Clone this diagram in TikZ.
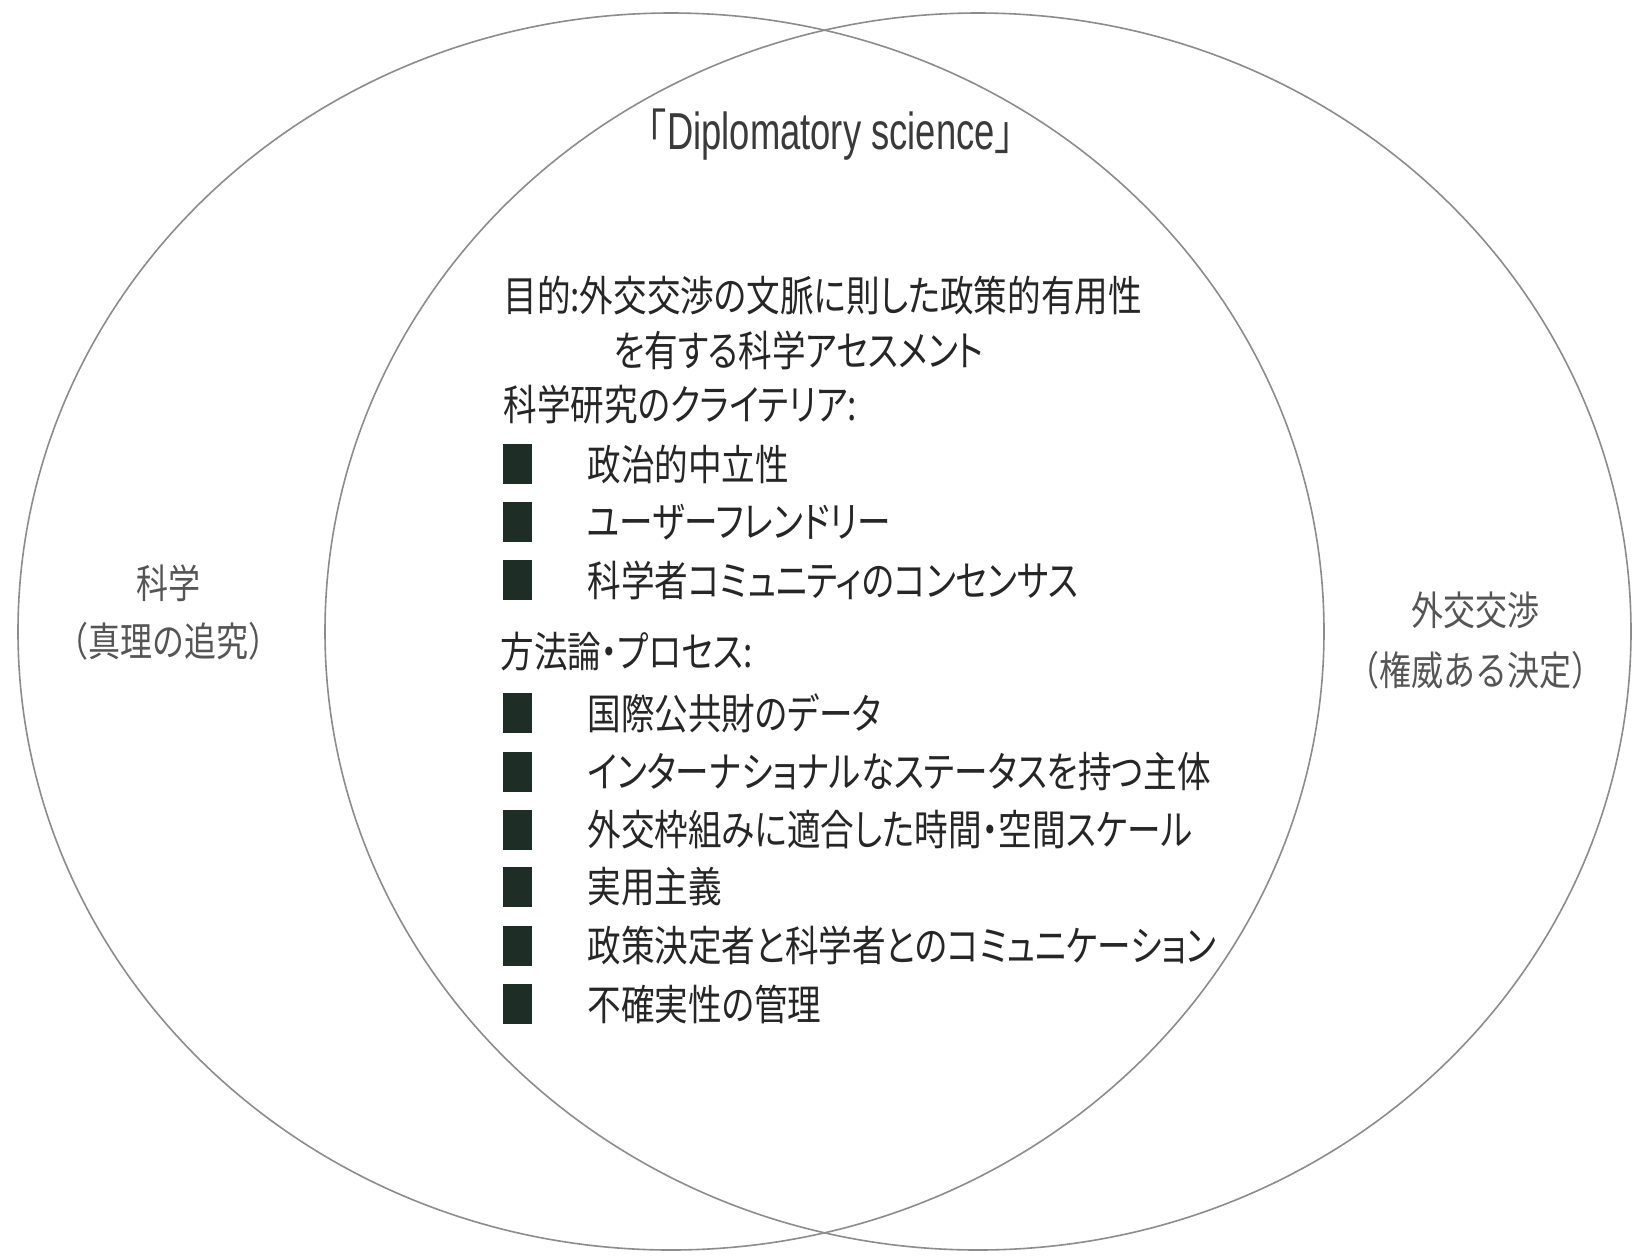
\documentclass[tikz,border=0pt]{standalone}
\usepackage{fontspec}
\newfontfamily\jpf[FakeStretch=0.8,RawFeature=+palt]{Noto Sans CJK JP}
\newfontfamily\jps[FakeStretch=0.8]{Noto Sans CJK JP}
\newfontfamily\latf[FakeStretch=0.7]{Liberation Sans}
\definecolor{ringgray}{HTML}{8C8C8C}
\definecolor{maintext}{HTML}{262626}
\definecolor{sidegray}{HTML}{555555}
\definecolor{diptext}{HTML}{3A3A3A}
\definecolor{bulletgreen}{HTML}{1E2D25}
\begin{document}
\begin{tikzpicture}[x=0.5pt,y=-0.5pt,
  venn/.style={draw=ringgray, line width=0.8pt},
  mainline/.style={anchor=west, inner sep=0pt, text=maintext, font=\jpf\fontsize{21}{24}\selectfont},
  sidelabel/.style={inner sep=0pt, text=sidegray, font=\jps\fontsize{20}{24}\selectfont},
  titlelabel/.style={inner sep=0pt, text=diptext, font=\latf\fontsize{26}{30}\selectfont},
  bulletbox/.style={fill=bulletgreen, minimum width=14.5pt, minimum height=20pt, inner sep=0pt}
]
\useasboundingbox (0,0) rectangle (1635,1255);
\fill[white] (0,0) rectangle (1635,1255);

% Venn ellipses
\draw[venn] (671,631.5) ellipse [x radius=326.5pt, y radius=309.25pt];
\draw[venn] (978,631.5) ellipse [x radius=326.5pt, y radius=309.25pt];

% Title
\node[titlelabel] (dip) at (831,135) {{\jps\fontsize{24}{28}\selectfont 「}Diplomatory science{\jps\fontsize{24}{28}\selectfont 」}};

% Side labels
\node[sidelabel] (sci1) at (168,583) {科学};
\node[sidelabel] (sci2) at (168,641) {（真理の追究）};
\node[sidelabel] (neg1) at (1475,610) {外交交渉};
\node[sidelabel] (neg2) at (1475,670) {（権威ある決定）};

% Central text
\node[mainline] (goal1) at (503,296) {目的:外交交渉の文脈に則した政策的有用性};
\node[mainline] (goal2) at (613,350) {を有する科学アセスメント};
\node[mainline] (crit) at (503,405) {科学研究のクライテリア:};

\node[bulletbox] (cb1) at (517,464) {};
\node[mainline] (ct1) at (587,464) {政治的中立性};
\node[bulletbox] (cb2) at (517,522) {};
\node[mainline] (ct2) at (587,522) {ユーザーフレンドリー};
\node[bulletbox] (cb3) at (517,580) {};
\node[mainline] (ct3) at (587,580) {科学者コミュニティのコンセンサス};

\node[mainline] (meth) at (500,652) {方法論・プロセス:};

\node[bulletbox] (mb1) at (517,713) {};
\node[mainline] (mt1) at (587,713) {国際公共財のデータ};
\node[bulletbox] (mb2) at (517,772) {};
\node[mainline] (mt2) at (587,772) {インターナショナルなステータスを持つ主体};
\node[bulletbox] (mb3) at (517,830) {};
\node[mainline] (mt3) at (587,830) {外交枠組みに適合した時間・空間スケール};
\node[bulletbox] (mb4) at (517,887) {};
\node[mainline] (mt4) at (587,887) {実用主義};
\node[bulletbox] (mb5) at (517,946) {};
\node[mainline] (mt5) at (587,946) {政策決定者と科学者とのコミュニケーション};
\node[bulletbox] (mb6) at (517,1004) {};
\node[mainline] (mt6) at (587,1004) {不確実性の管理};
\end{tikzpicture}
\end{document}
